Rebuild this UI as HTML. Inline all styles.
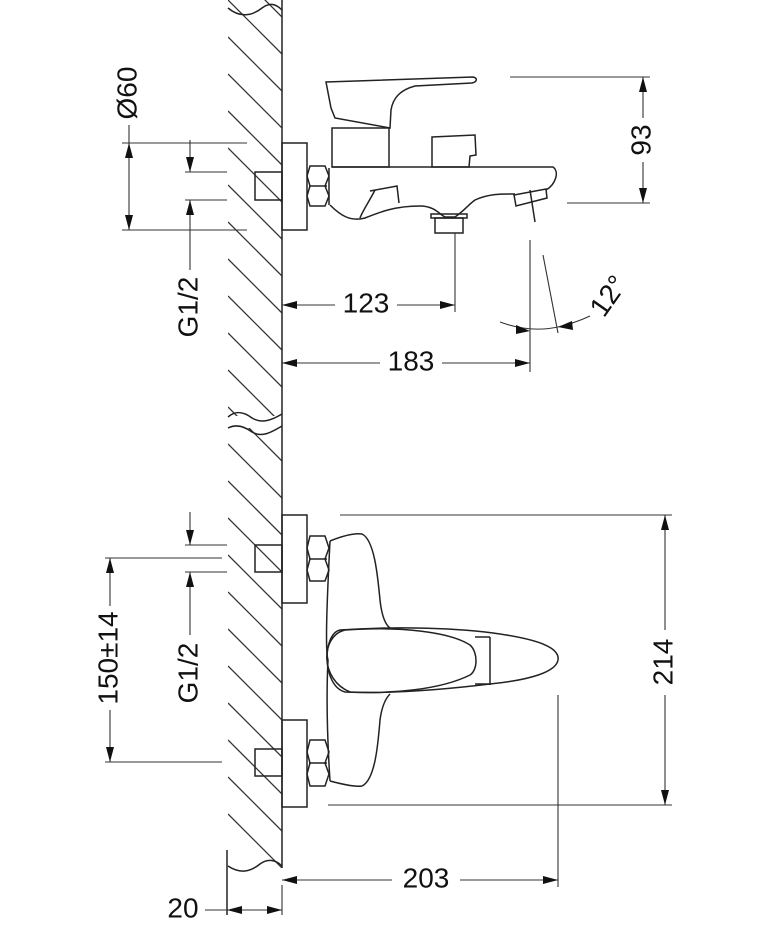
<!DOCTYPE html>
<html><head><meta charset="utf-8"><style>
html,body{margin:0;padding:0;background:#fff}
svg{display:block}
text{font-family:"Liberation Sans",Arial,sans-serif;font-size:28px;fill:#111}
</style></head><body>
<svg width="766" height="950" viewBox="0 0 766 950" xmlns="http://www.w3.org/2000/svg">
<defs>
<marker id="a" viewBox="0 0 15 8" refX="15" refY="4" markerWidth="15" markerHeight="8" markerUnits="userSpaceOnUse" orient="auto-start-reverse"><path d="M0,0 L15,4 L0,8 z" fill="#111"/></marker>
<clipPath id="w1"><rect x="228" y="0" width="54" height="416"/></clipPath>
<clipPath id="w2"><rect x="228" y="428" width="54" height="440"/></clipPath>
<g id="hatch" stroke="#333" stroke-width="1.3">
<line x1="228" y1="-37" x2="282" y2="17"/><line x1="228" y1="0" x2="282" y2="54"/><line x1="228" y1="37" x2="282" y2="91"/><line x1="228" y1="74" x2="282" y2="128"/><line x1="228" y1="111" x2="282" y2="165"/><line x1="228" y1="148" x2="282" y2="202"/><line x1="228" y1="185" x2="282" y2="239"/><line x1="228" y1="222" x2="282" y2="276"/><line x1="228" y1="259" x2="282" y2="313"/><line x1="228" y1="296" x2="282" y2="350"/><line x1="228" y1="333" x2="282" y2="387"/><line x1="228" y1="370" x2="282" y2="424"/><line x1="228" y1="407" x2="282" y2="461"/><line x1="228" y1="444" x2="282" y2="498"/><line x1="228" y1="481" x2="282" y2="535"/><line x1="228" y1="518" x2="282" y2="572"/><line x1="228" y1="555" x2="282" y2="609"/><line x1="228" y1="592" x2="282" y2="646"/><line x1="228" y1="629" x2="282" y2="683"/><line x1="228" y1="666" x2="282" y2="720"/><line x1="228" y1="703" x2="282" y2="757"/><line x1="228" y1="740" x2="282" y2="794"/><line x1="228" y1="777" x2="282" y2="831"/><line x1="228" y1="814" x2="282" y2="868"/>
</g>
</defs>
<g clip-path="url(#w1)"><use href="#hatch"/></g>
<g clip-path="url(#w2)"><use href="#hatch"/></g>
<g fill="none" stroke="#222" stroke-width="1.5">
<line x1="282" y1="0" x2="282" y2="868"/>
<path d="M228,8 C240,18 252,16 262,8 C270,2 276,4 282,10"/>
<path d="M228,417 C236,410 244,412 252,418 C262,424 272,420 282,414"/>
<path d="M228,428 C236,424 244,426 252,432 C262,438 272,432 282,426"/>
<path d="M228,866 C240,874 250,872 260,864 C268,858 276,860 282,866"/>
<line x1="227" y1="850" x2="227" y2="915"/>

<rect x="282" y="143" width="25" height="87"/>
<rect x="255" y="172" width="27" height="28"/>
<path d="M310,166 L325,166 L329,176 L325,186 L329,196 L325,206 L310,206 L307,196 L310,186 L307,176 Z"/>
<line x1="309" y1="186" x2="327" y2="186"/>
<line x1="329" y1="168" x2="329" y2="205"/>
<path d="M332,167 L553,167 C560,172 555,185 546,190"/>
<path d="M330,205 C340,215 350,222 365,218 C380,212 395,206 420,206 C435,206 440,215 445,217 L455,217 C465,210 468,205 475,200 C490,193 505,194 515,194"/>
<path d="M370,191 L397,186 L399,203"/>
<path d="M375,190 C370,200 362,212 360,218"/>
<rect x="431" y="214" width="36" height="4"/>
<rect x="435" y="218" width="28" height="15"/>
<path d="M514,195 L546,189 L547,198 L516,206 Z"/>
<line x1="530" y1="190" x2="535" y2="222"/>
<rect x="332" y="128" width="57" height="39"/>
<path d="M326,82 L473,77 C478,78 477,82 472,83 L415,86 C400,90 393,98 391,110 L390,128 L335,118 L331,108 Z"/>
<path d="M432,137 L475,135 L476,155 L470,156 L469,167 L432,167 Z"/>

<rect x="282" y="515" width="25" height="88"/>
<rect x="255" y="545" width="27" height="27"/>
<path d="M310,536 L325,536 L329,548 L325,559 L329,570 L325,581 L310,581 L307,570 L310,559 L307,548 Z"/>
<line x1="309" y1="559" x2="327" y2="559"/>
<rect x="282" y="720" width="25" height="87"/>
<rect x="255" y="749" width="27" height="27"/>
<path d="M310,740 L325,740 L329,752 L325,763 L329,774 L325,786 L310,786 L307,774 L310,763 L307,752 Z"/>
<line x1="309" y1="763" x2="327" y2="763"/>
<path d="M330,541 C345,535 355,533 362,534 C375,540 378,580 380,600 C382,618 386,625 390,628"/>
<path d="M390,694 C386,698 382,705 380,720 C378,745 375,780 362,786 C355,787 345,785 330,781"/>
<path d="M330,541 C327,600 325,650 328,660 C326,700 328,750 330,781"/>
<path d="M340,630 C400,626 460,628 500,634 C540,640 560,648 558,660 C556,672 530,680 490,684 C440,690 390,694 345,692 C322,686 322,634 340,630 Z"/>
<path d="M345,630 C400,626 450,632 470,645 C478,652 478,670 470,675 C440,690 390,694 350,692 C320,680 320,636 345,630 Z"/>
<line x1="490" y1="637" x2="490" y2="685"/>
<line x1="475" y1="637" x2="490" y2="637"/>
<line x1="475" y1="684" x2="490" y2="684"/>
</g>

<g fill="none" stroke="#333" stroke-width="1.1">
<line x1="510" y1="77" x2="650" y2="77"/><line x1="567" y1="203" x2="650" y2="203"/>
<line x1="643" y1="77" x2="643" y2="118" marker-start="url(#a)"/>
<line x1="643" y1="162" x2="643" y2="203" marker-end="url(#a)"/>
<line x1="122" y1="143" x2="247" y2="143"/><line x1="122" y1="230" x2="247" y2="230"/>
<line x1="129" y1="125" x2="129" y2="230" marker-end="url(#a)"/>
<polygon points="129,143 125,158 133,158" fill="#111" stroke="none"/>
<line x1="185" y1="172" x2="227" y2="172"/><line x1="185" y1="200" x2="227" y2="200"/>
<line x1="190" y1="140" x2="190" y2="172" marker-end="url(#a)"/>
<line x1="190" y1="270" x2="190" y2="200" marker-end="url(#a)"/>
<line x1="455" y1="233" x2="455" y2="312"/>
<line x1="282" y1="305" x2="335" y2="305" marker-start="url(#a)"/>
<line x1="397" y1="305" x2="455" y2="305" marker-end="url(#a)"/>
<line x1="530" y1="240" x2="530" y2="372"/>
<line x1="282" y1="363" x2="380" y2="363" marker-start="url(#a)"/>
<line x1="442" y1="363" x2="530" y2="363" marker-end="url(#a)"/>
<line x1="543" y1="255" x2="558" y2="333"/>
<path d="M500,322 Q530,333 558,327"/>
<path d="M590,316 Q575,323 558,327"/>
<polygon points="530,331 516,325 516,334" fill="#111" stroke="none"/>
<polygon points="558,327 572,321 573,330" fill="#111" stroke="none"/>
<line x1="340" y1="515" x2="672" y2="515"/><line x1="328" y1="805" x2="672" y2="805"/>
<line x1="665" y1="515" x2="665" y2="630" marker-start="url(#a)"/>
<line x1="665" y1="695" x2="665" y2="805" marker-end="url(#a)"/>
<line x1="558" y1="695" x2="558" y2="887"/>
<line x1="282" y1="885" x2="282" y2="915"/>
<line x1="282" y1="880" x2="392" y2="880" marker-start="url(#a)"/>
<line x1="460" y1="880" x2="558" y2="880" marker-end="url(#a)"/>
<line x1="205" y1="910" x2="227" y2="910"/>
<line x1="227" y1="910" x2="282" y2="910" marker-start="url(#a)" marker-end="url(#a)"/>
<line x1="105" y1="558" x2="222" y2="558"/><line x1="105" y1="762" x2="222" y2="762"/>
<line x1="110" y1="558" x2="110" y2="606" marker-start="url(#a)"/>
<line x1="110" y1="710" x2="110" y2="762" marker-end="url(#a)"/>
<line x1="185" y1="545" x2="227" y2="545"/><line x1="185" y1="572" x2="227" y2="572"/>
<line x1="190" y1="512" x2="190" y2="545" marker-end="url(#a)"/>
<line x1="190" y1="635" x2="190" y2="572" marker-end="url(#a)"/>
</g>

<g>
<text x="643" y="140" text-anchor="middle" dominant-baseline="middle" transform="rotate(-90 643 140)">93</text>
<text x="129" y="93" text-anchor="middle" dominant-baseline="middle" transform="rotate(-90 129 93)">Ø60</text>
<text x="190" y="307" text-anchor="middle" dominant-baseline="middle" transform="rotate(-90 190 307)">G1/2</text>
<text x="366" y="305" text-anchor="middle" dominant-baseline="middle">123</text>
<text x="411" y="363" text-anchor="middle" dominant-baseline="middle">183</text>
<text x="610" y="297" text-anchor="middle" dominant-baseline="middle" transform="rotate(-55 610 297)">12°</text>
<text x="665" y="662" text-anchor="middle" dominant-baseline="middle" transform="rotate(-90 665 662)">214</text>
<text x="426" y="880" text-anchor="middle" dominant-baseline="middle">203</text>
<text x="183" y="910" text-anchor="middle" dominant-baseline="middle">20</text>
<text x="110" y="658" text-anchor="middle" dominant-baseline="middle" transform="rotate(-90 110 658)">150±14</text>
<text x="190" y="673" text-anchor="middle" dominant-baseline="middle" transform="rotate(-90 190 673)">G1/2</text>
</g>
</svg>
</body></html>
